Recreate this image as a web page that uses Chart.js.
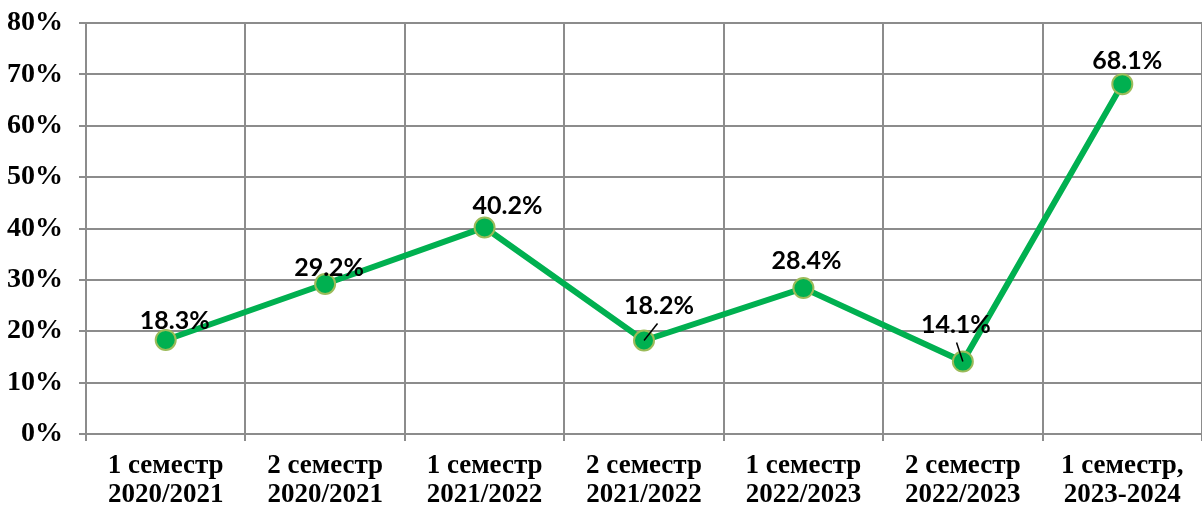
<!DOCTYPE html>
<html>
<head>
<meta charset="utf-8">
<script src="https://cdn.jsdelivr.net/npm/chart.js@4.4.1/dist/chart.umd.min.js"></script>
<style>
    html, body { margin: 0; padding: 0; background: #fff; overflow: hidden; }
    canvas { display: block; }
</style>
</head>
<body>
<canvas id="chart" width="1202" height="506"></canvas>
<script>
// ==================== Data ====================

const categories = [
    ['1 семестр', '2020/2021'],
    ['2 семестр', '2020/2021'],
    ['1 семестр', '2021/2022'],
    ['2 семестр', '2021/2022'],
    ['1 семестр', '2022/2023'],
    ['2 семестр', '2022/2023'],
    ['1 семестр,', '2023-2024']
];

const shareValues = [18.3, 29.2, 40.2, 18.2, 28.4, 14.1, 68.1];

const yTicks = [0, 10, 20, 30, 40, 50, 60, 70, 80];

// 라벨 위치 보정 (px) - 원본 차트처럼 약간씩 어긋나게
const labelShift = [[9, -19], [4, -16], [23, -22], [15, -35], [3, -27], [-7, -37], [5, -23]];
const leaderIdx = [3, 5];

// ==================== Plugins ====================

/**
 * 데이터 라벨 그리기
 */
const valueLabels = {
    id: 'valueLabels',
    afterDatasetsDraw(chart) {
        const ctx = chart.ctx;
        const meta = chart.getDatasetMeta(0);
        ctx.save();
        meta.data.forEach((pt, i) => {
            const [dx, dy] = labelShift[i];
            const lx = pt.x + dx;
            const ly = pt.y + dy;
            if (leaderIdx.includes(i)) {
                ctx.strokeStyle = '#000';
                ctx.lineWidth = 1.5;
                ctx.beginPath();
                ctx.moveTo(pt.x, pt.y);
                ctx.lineTo(pt.x + dx * 0.9, ly + 18);
                ctx.stroke();
            }
            ctx.fillStyle = '#000';
            ctx.font = "bold 25px 'Lato', 'Open Sans', sans-serif";
            ctx.textAlign = 'center';
            ctx.textBaseline = 'middle';
            ctx.fillText(shareValues[i].toFixed(1) + '%', lx, ly);
        });
        ctx.restore();
    }
};

// ==================== Chart ====================

const serifBold = { family: "'Liberation Serif', 'Times New Roman', serif", weight: 'bold' };

new Chart(document.getElementById('chart'), {
    type: 'line',
    data: {
        labels: categories,
        datasets: [{
            data: shareValues,
            borderColor: '#00b050',
            borderWidth: 6,
            pointRadius: 10,
            pointHoverRadius: 10,
            pointBackgroundColor: '#00b050',
            pointBorderColor: '#9bbb59',
            pointBorderWidth: 2,
            tension: 0,
            clip: false
        }]
    },
    options: {
        responsive: false,
        animation: false,
        events: [],
        layout: { autoPadding: false, padding: { top: 23, right: 0, left: 0, bottom: 0 } },
        plugins: {
            legend: { display: false },
            tooltip: { enabled: false }
        },
        scales: {
            x: {
                offset: true,
                grid: {
                    offset: true,
                    color: '#8c8c8c',
                    lineWidth: 2,
                    tickLength: 7,
                    drawTicks: true
                },
                border: { color: '#8c8c8c', width: 2 },
                ticks: {
                    color: '#000',
                    padding: 10,
                    maxRotation: 0,
                    autoSkip: false,
                    font: { ...serifBold, size: 27, lineHeight: 1.08 }
                },
                afterFit: s => {
                    s.height = 72;
                    s.paddingLeft = 0;
                    s.paddingRight = 0;
                }
            },
            y: {
                min: 0,
                max: 80,
                afterBuildTicks: s => { s.ticks = yTicks.map(v => ({ value: v })); },
                grid: {
                    color: '#8c8c8c',
                    lineWidth: 2,
                    tickLength: 7
                },
                border: { color: '#8c8c8c', width: 2 },
                ticks: {
                    color: '#000',
                    padding: 16,
                    font: { ...serifBold, size: 28 },
                    callback: v => v + '%'
                },
                afterFit: s => {
                    s.width = 86;
                    s.paddingTop = 0;
                    s.paddingBottom = 0;
                }
            }
        }
    },
    plugins: [valueLabels]
});
</script>
</body>
</html>
